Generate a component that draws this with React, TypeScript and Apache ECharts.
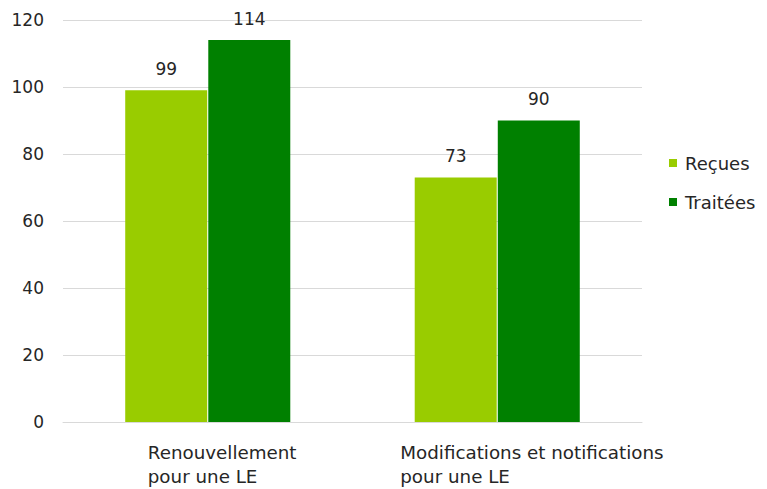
import React, { useEffect, useRef } from "react";
import * as echarts from "echarts";

const categories = ["Renouvellement\npour une LE", "Modifications et notifications\npour une LE"];
const seriesNames = ["Reçues", "Traitées"];
const recues = [99, 73];
const traitees = [114, 90];
const yTicks = { min: 0, max: 120, interval: 20 };

const FONT = "DejaVu Sans, Verdana, sans-serif";
const TEXT = "#262626";
const GRID = "#d9d9d9";

export default function App() {
  const ref = useRef<HTMLDivElement>(null);

  useEffect(() => {
    if (!ref.current) return;
    const chart = echarts.init(ref.current, undefined, { renderer: "svg" });
    const valueLabel = {
      show: true,
      position: "top" as const,
      distance: 13,
      color: TEXT,
      fontSize: 17,
      fontFamily: FONT,
    };
    // each category label is a left-aligned block whose width sets where it starts
    const catStyle = (width: number) => ({
      width,
      align: "left",
      fontSize: 18.3,
      fontFamily: FONT,
      color: TEXT,
      lineHeight: 24,
    });
    chart.setOption({
      animation: false,
      textStyle: { fontFamily: FONT },
      grid: { left: 63, right: 125, top: 20, bottom: 67, containLabel: false },
      legend: {
        orient: "vertical",
        left: 669,
        top: 154,
        padding: 0,
        itemWidth: 8,
        itemHeight: 8,
        itemGap: 21,
        icon: "rect",
        textStyle: { color: TEXT, fontSize: 18, fontFamily: FONT, padding: [0, 0, 0, 3] },
        data: seriesNames,
      },
      xAxis: {
        type: "category",
        data: categories,
        axisLine: { show: true, lineStyle: { color: GRID, width: 1 } },
        axisTick: { show: false },
        axisLabel: {
          interval: 0,
          hideOverlap: false,
          margin: 18,
          color: TEXT,
          fontSize: 18.3,
          fontFamily: FONT,
          lineHeight: 24,
          formatter: (v: string, i: number) =>
            v
              .split("\n")
              .map((line) => `{${i === 0 ? "a" : "b"}|${line}}`)
              .join("\n"),
          rich: {
            a: catStyle(120),
            b: catStyle(194),
          },
        },
      },
      yAxis: {
        type: "value",
        min: yTicks.min,
        max: yTicks.max,
        interval: yTicks.interval,
        axisLine: { show: false },
        axisTick: { show: false },
        splitLine: { lineStyle: { color: GRID, width: 1 } },
        axisLabel: { color: TEXT, fontSize: 17, fontFamily: FONT, margin: 19 },
      },
      series: [
        {
          name: seriesNames[0],
          type: "bar",
          data: recues,
          itemStyle: { color: "#99cc00" },
          barWidth: 82,
          barGap: "1.3%",
          label: valueLabel,
        },
        {
          name: seriesNames[1],
          type: "bar",
          data: traitees,
          itemStyle: { color: "#008000" },
          barWidth: 82,
          barGap: "1.3%",
          label: valueLabel,
        },
      ],
    });
    return () => chart.dispose();
  }, []);

  return <div ref={ref} style={{ width: 767, height: 489, position: "absolute", left: 0, top: 0 }} />;
}
